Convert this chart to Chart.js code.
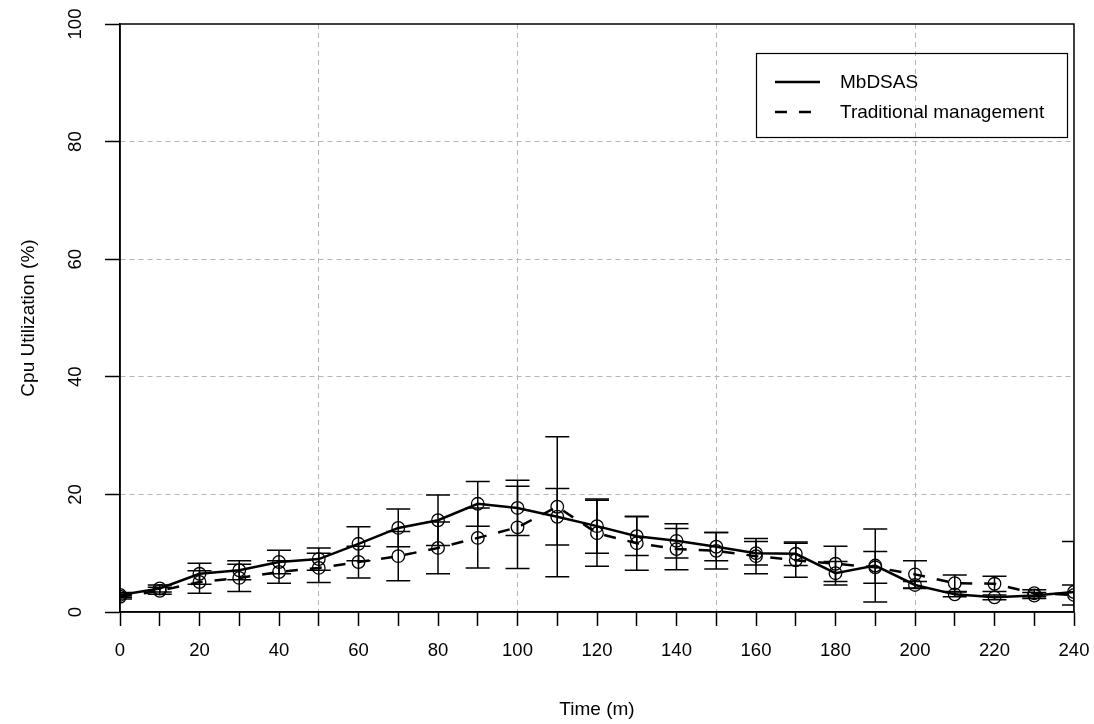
<!DOCTYPE html>
<html>
<head>
<meta charset="utf-8">
<title>Cpu Utilization</title>
<script src="https://cdn.jsdelivr.net/npm/chart.js@4.4.0/dist/chart.umd.min.js"></script>
<style>
  html, body { margin: 0; padding: 0; background: #fff; }
  canvas { display: block; }
</style>
</head>
<body>
<canvas id="chart" width="1094" height="724"></canvas>
<script>
// waktu pengamatan (menit)
const times = [0, 10, 20, 30, 40, 50, 60, 70, 80, 90, 100, 110, 120,
               130, 140, 150, 160, 170, 180, 190, 200, 210, 220, 230, 240];

// rata-rata cpu utilization per seri
const mbdsas = [2.9, 4.0, 6.5, 7.1, 8.5, 9.0, 11.6, 14.3, 15.6, 18.4, 17.7, 16.2, 14.6,
                12.9, 12.1, 11.1, 10.0, 9.9, 6.6, 7.9, 4.6, 3.0, 2.5, 2.8, 3.4];
const traditional = [2.6, 3.6, 5.1, 5.8, 6.8, 7.5, 8.5, 9.5, 10.9, 12.6, 14.4, 17.9, 13.4,
                     11.7, 10.7, 10.4, 9.5, 8.8, 8.2, 7.6, 6.4, 4.9, 4.8, 3.2, 2.9];

// error bar (+/-)
const mbdsasErr = [0.4, 0.6, 1.8, 1.6, 2.0, 1.9, 2.9, 3.2, 4.3, 3.8, 4.7, 4.8, 4.6,
                   3.3, 2.9, 2.4, 2.0, 2.0, 2.0, 6.2, 0.6, 0.4, 0.4, 0.5, 8.6];
const traditionalErr = [0.4, 0.6, 1.9, 2.3, 1.9, 2.5, 2.7, 4.2, 4.4, 5.1, 7.0, 11.9, 5.6,
                        4.6, 3.5, 3.1, 3.0, 2.9, 3.0, 2.7, 2.3, 1.4, 1.3, 0.6, 1.7];

// label sumbu
const xLabelEvery = 20;
const yTicks = [0, 20, 40, 60, 80, 100];

const FONT = "'Liberation Sans', Arial, Helvetica, sans-serif";

// garis error bar dengan cap
const errorBars = {
    id: "errorBars",
    afterDatasetsDraw(chart) {
        const { ctx, chartArea, scales: { x, y } } = chart;
        ctx.save();
        ctx.beginPath();
        ctx.rect(chartArea.left, chartArea.top, chartArea.width, chartArea.height);
        ctx.clip();
        ctx.strokeStyle = "#000";
        ctx.lineWidth = 1.5;
        chart.data.datasets.forEach(ds => {
            ds.errors.forEach((e, i) => {
                const px = x.getPixelForValue(times[i]);
                const hi = y.getPixelForValue(ds.data[i] + e);
                const lo = y.getPixelForValue(ds.data[i] - e);
                ctx.beginPath();
                ctx.moveTo(px, hi); ctx.lineTo(px, lo);
                ctx.moveTo(px - 12, hi); ctx.lineTo(px + 12, hi);
                ctx.moveTo(px - 12, lo); ctx.lineTo(px + 12, lo);
                ctx.stroke();
            });
        });
        ctx.restore();
    }
};

// kotak plot, label sumbu y (diputar) dan legenda
const frame = {
    id: "frame",
    afterDraw(chart) {
        const { ctx, chartArea: a, scales: { y } } = chart;
        ctx.save();
        ctx.strokeStyle = "#000";
        ctx.lineWidth = 1.5;
        ctx.strokeRect(a.left, a.top, a.right - a.left, a.bottom - a.top);

        ctx.fillStyle = "#000";
        ctx.font = "18.5px " + FONT;
        ctx.textAlign = "center";
        ctx.textBaseline = "middle";
        y.ticks.forEach(t => {
            ctx.save();
            ctx.translate(76, y.getPixelForValue(t.value));
            ctx.rotate(-Math.PI / 2);
            ctx.fillText(String(t.value), 0, 0);
            ctx.restore();
        });

        // legenda
        ctx.lineWidth = 1.2;
        ctx.strokeRect(756.5, 53.5, 311, 84);
        const rows = [82, 112];
        chart.data.datasets.forEach((ds, i) => {
            ctx.beginPath();
            ctx.lineWidth = 2.5;
            ctx.setLineDash(ds.borderDash || []);
            ctx.moveTo(775, rows[i]);
            ctx.lineTo(820, rows[i]);
            ctx.stroke();
            ctx.setLineDash([]);
            ctx.font = "19px " + FONT;
            ctx.textAlign = "left";
            ctx.fillText(ds.label, 840, rows[i] + 1);
        });
        ctx.restore();
    }
};

const ctx = document.getElementById("chart").getContext("2d");
const chart = new Chart(ctx, {
    type: "line",
    data: {
        labels: times,
        datasets: [
            {
                label: "MbDSAS",
                data: mbdsas,
                errors: mbdsasErr,
                borderColor: "#000",
                borderWidth: 2.5,
                tension: 0,
                pointRadius: 6.3,
                pointBorderWidth: 1.3,
                pointBorderColor: "#000",
                pointBackgroundColor: "rgba(0,0,0,0)"
            },
            {
                label: "Traditional management",
                data: traditional,
                errors: traditionalErr,
                borderColor: "#000",
                borderWidth: 2.5,
                borderDash: [12, 12],
                tension: 0,
                pointRadius: 6.3,
                pointBorderWidth: 1.3,
                pointBorderColor: "#000",
                pointBackgroundColor: "rgba(0,0,0,0)"
            }
        ]
    },
    options: {
        responsive: false,
        animation: false,
        devicePixelRatio: 1,
        layout: { padding: { top: 24, right: 20, left: 0, bottom: 0 }, autoPadding: false },
        plugins: {
            legend: { display: false },
            tooltip: { enabled: false }
        },
        scales: {
            x: {
                type: "linear",
                min: 0,
                max: 240,
                afterFit: s => { s.height = 112; s.paddingLeft = 0; s.paddingRight = 0; },
                ticks: {
                    stepSize: 10,
                    autoSkip: false,
                    maxRotation: 0,
                    padding: 14,
                    color: "#000",
                    font: { family: FONT, size: 18.5 },
                    callback: v => (v % xLabelEvery === 0 ? String(v) : "")
                },
                grid: {
                    color: c => (c.tick && c.tick.value % 50 === 0 && c.tick.value > 0 && c.tick.value < 240) ? "#b5b5b5" : "rgba(0,0,0,0)",
                    lineWidth: 1,
                    tickColor: "#000",
                    tickWidth: 1.5,
                    tickLength: 14
                },
                border: { color: "#000", width: 1.5, dash: [5, 4] },
                title: {
                    display: true,
                    text: "Time (m)",
                    color: "#000",
                    font: { family: FONT, size: 19 },
                    padding: { top: 0, bottom: 3 }
                }
            },
            y: {
                min: 0,
                max: 100,
                afterFit: s => { s.width = 120; s.paddingTop = 0; s.paddingBottom = 0; },
                afterBuildTicks: s => { s.ticks = yTicks.map(v => ({ value: v })); },
                ticks: { display: false },
                grid: {
                    color: c => (c.tick && c.tick.value > 0 && c.tick.value < 100) ? "#b5b5b5" : "rgba(0,0,0,0)",
                    lineWidth: 1,
                    tickColor: "#000",
                    tickWidth: 1.5,
                    tickLength: 15
                },
                border: { color: "#000", width: 1.5, dash: [5, 4] },
                title: {
                    display: true,
                    text: "Cpu Utilization (%)",
                    color: "#000",
                    font: { family: FONT, size: 19 },
                    padding: { top: 17, bottom: 0 }
                }
            }
        }
    },
    plugins: [errorBars, frame]
});
</script>
</body>
</html>
